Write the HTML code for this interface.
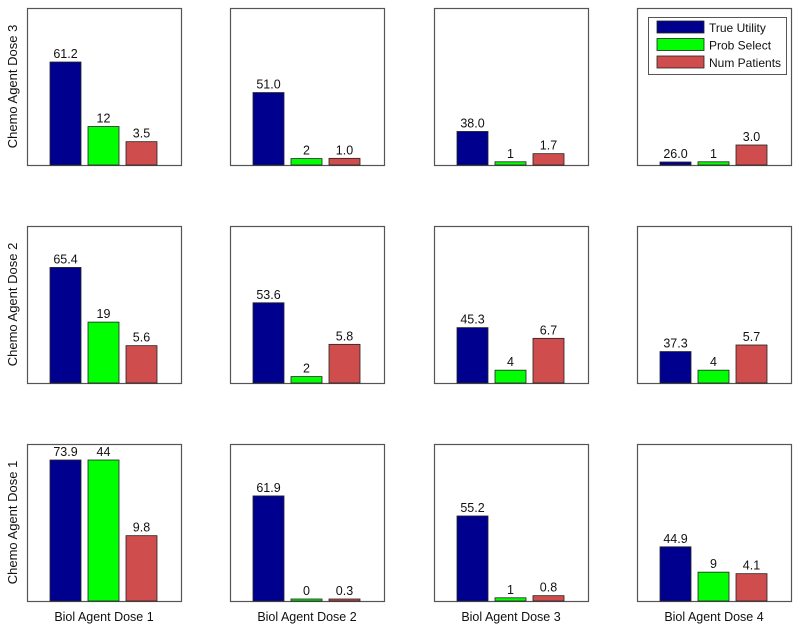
<!DOCTYPE html>
<html><head><meta charset="utf-8"><style>
body{margin:0;background:#fff;}
svg{display:block;font-family:"Liberation Sans",Arial,sans-serif;}
</style></head><body>
<svg id="chart" width="800" height="632" viewBox="0 0 800 632" xmlns="http://www.w3.org/2000/svg"></svg>
<script>
const rowLabels = ["Chemo Agent Dose 3","Chemo Agent Dose 2","Chemo Agent Dose 1"];
const colLabels = ["Biol Agent Dose 1","Biol Agent Dose 2","Biol Agent Dose 3","Biol Agent Dose 4"];
const seriesNames = ["True Utility","Prob Select","Num Patients"];
const trueUtility = [[61.2,51.0,38.0,26.0],[65.4,53.6,45.3,37.3],[73.9,61.9,55.2,44.9]];
const probSelect = [[12,2,1,1],[19,2,4,4],[44,0,1,9]];
const numPatients = [[3.5,1.0,1.7,3.0],[5.6,5.8,6.7,5.7],[9.8,0.3,0.8,4.1]];
const trueUtilityLabels = [["61.2","51.0","38.0","26.0"],["65.4","53.6","45.3","37.3"],["73.9","61.9","55.2","44.9"]];
const probSelectLabels = [["12","2","1","1"],["19","2","4","4"],["44","0","1","9"]];
const numPatientsLabels = [["3.5","1.0","1.7","3.0"],["5.6","5.8","6.7","5.7"],["9.8","0.3","0.8","4.1"]];

const colors = ["#00008f","#00ff00","#d04d4d"];
const svg = document.getElementById('chart');
const NS = "http://www.w3.org/2000/svg";
function mk(tag, attrs, parent){const e=document.createElementNS(NS,tag);for(const k in attrs)e.setAttribute(k,attrs[k]);(parent||svg).appendChild(e);return e;}

const colX = [27,230,434,637], rowY = [8,226,444];
const PW = 154, PH = 157;
const scaleFns = [
  v => Math.max(3,(v-26.8)*141/(73.9-26.8)),
  v => Math.max(2,v*141/44),
  v => Math.max(2,v*141/21.15)
];
const allData = [trueUtility, probSelect, numPatients];
const allLabels = [trueUtilityLabels, probSelectLabels, numPatientsLabels];
const barOffsets = [23,61,99], BW = 31;

for(let r=0;r<3;r++){
  for(let c=0;c<4;c++){
    const x0=colX[c], y0=rowY[r], bottom=y0+PH;
    const box = mk('rect',{x:x0+0.5,y:y0+0.5,width:PW,height:PH,fill:'#fff',stroke:'#555','stroke-width':1.2});
    
    
    for(let s=0;s<3;s++){
      const v=allData[s][r][c];
      const h=scaleFns[s](v);
      const bx=x0+barOffsets[s];
      const b=mk('rect',{x:bx,y:bottom-h,width:BW,height:h,fill:colors[s],stroke:'#222','stroke-width':0.8});
      
      
      const t=mk('text',{x:bx+BW/2,y:bottom-h-4,'text-anchor':'middle','font-size':12.5,fill:'#111'});
      t.textContent=allLabels[s][r][c];
      
      
    }
  }
  const yl=mk('text',{x:0,y:0,transform:'translate(17,'+(rowY[r]+PH/2)+') rotate(-90)','text-anchor':'middle','font-size':13,fill:'#111'});
  yl.textContent=rowLabels[r];
  
  
}
for(let c=0;c<4;c++){
  const xl=mk('text',{x:colX[c]+PW/2,y:621,'text-anchor':'middle','font-size':12.5,fill:'#111'});
  xl.textContent=colLabels[c];
  
  
}
const lg=mk('g',{});


mk('rect',{x:648.5,y:17.5,width:138,height:57,fill:'#fff',stroke:'#555','stroke-width':1},lg);
for(let s=0;s<3;s++){
  const yy=21+s*17.5;
  const sw=mk('rect',{x:657,y:yy,width:47,height:12,fill:colors[s],stroke:'#222','stroke-width':0.8},lg);
  
  
  const t=mk('text',{x:709,y:yy+11,'font-size':12,fill:'#111'},lg);
  t.textContent=seriesNames[s];
  
  
}
</script>
</body></html>
